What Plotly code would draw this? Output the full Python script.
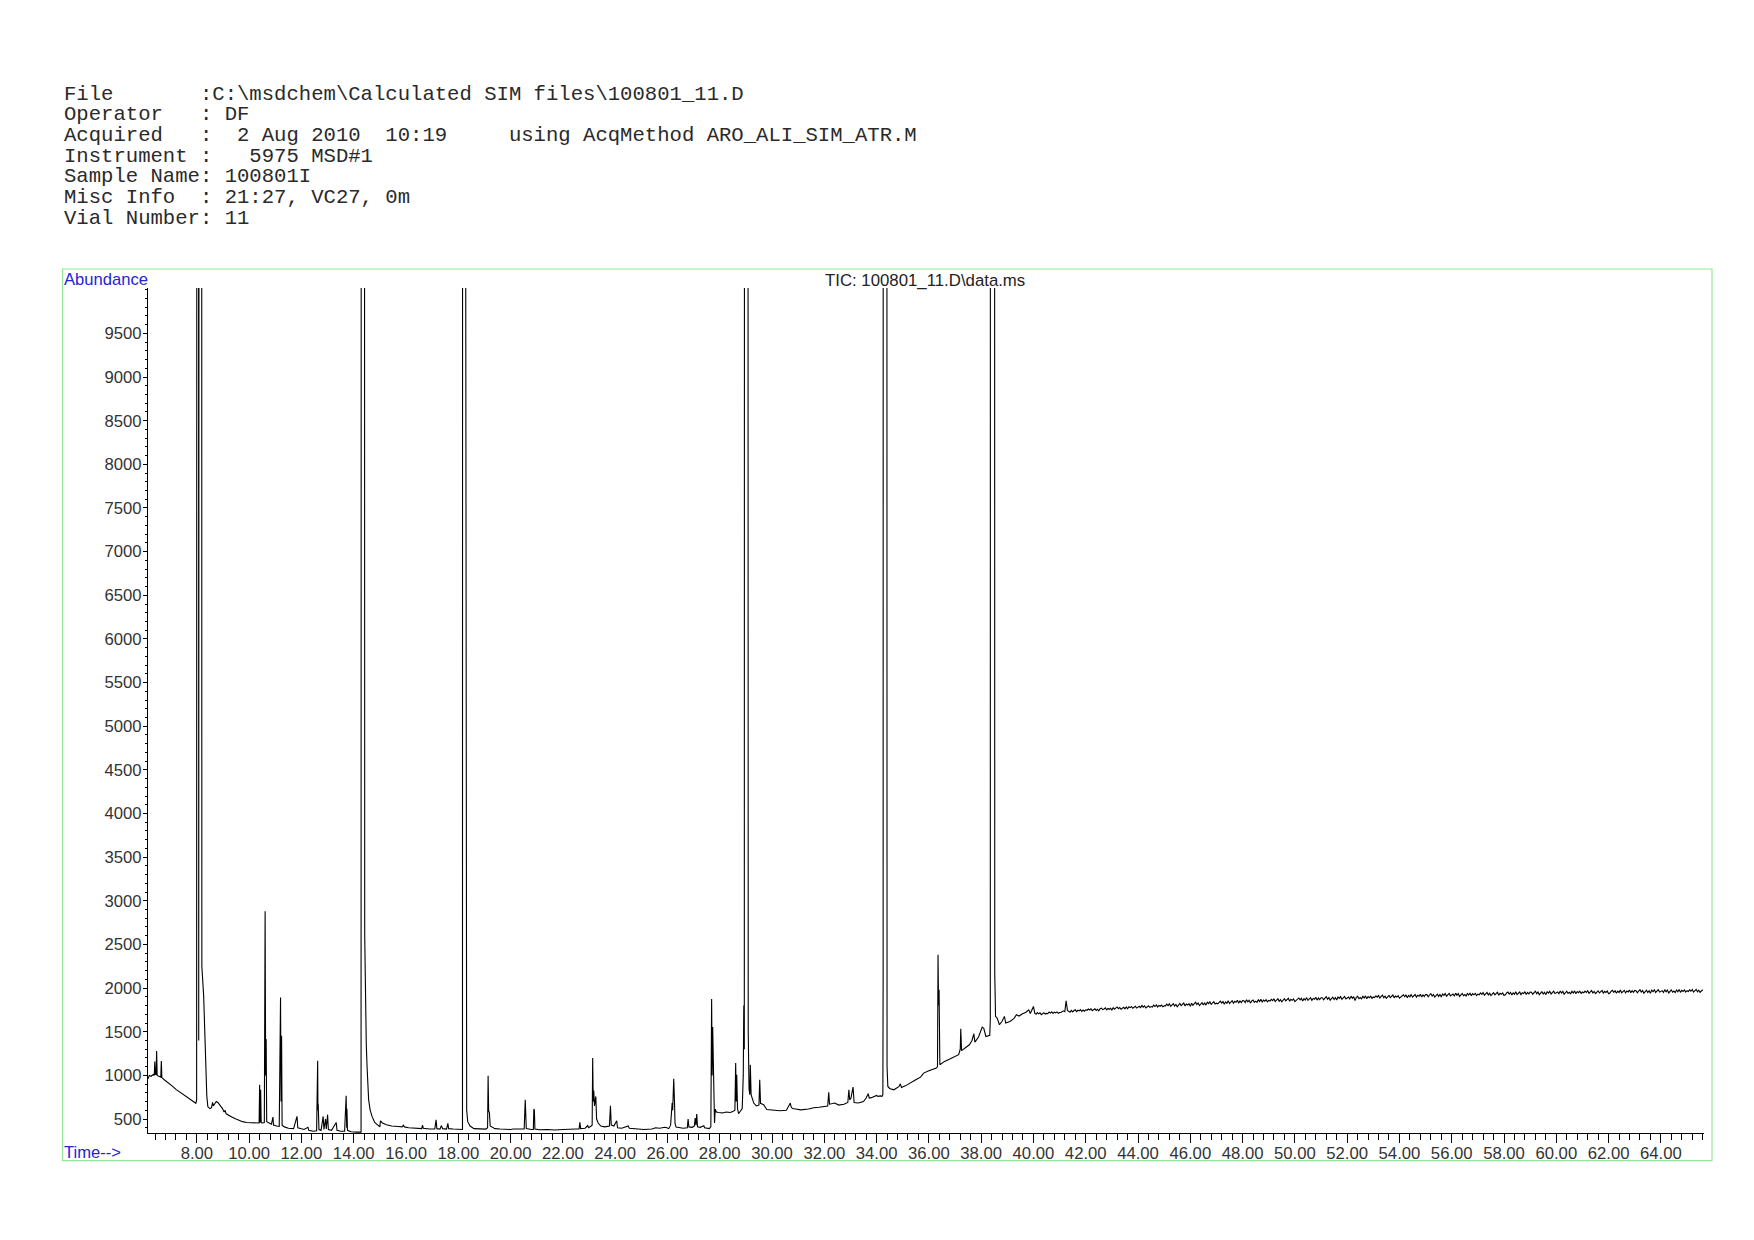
import plotly.graph_objects as go

# ---------------- data ----------------
rt_seg1 = [6.13, 6.18, 6.25, 6.33, 6.37, 6.39, 6.41, 6.44, 6.46, 6.48, 6.55, 6.62, 6.64, 6.66, 6.75, 6.90,
           7.05, 7.20, 7.35, 7.50, 7.65, 7.80, 7.92, 7.96, 7.99, 8.01, 8.05, 8.07, 8.09, 8.11, 8.17, 8.19,
           8.26, 8.32, 8.38, 8.42, 8.50, 8.56, 8.60, 8.63, 8.68, 8.74, 8.80, 8.86, 8.92, 8.98, 9.04, 9.08,
           9.12, 9.20, 9.30, 9.45, 9.60, 9.75, 9.90, 10.10, 10.30, 10.38, 10.40, 10.42, 10.44, 10.46, 10.50,
           10.58, 10.61, 10.63, 10.65, 10.67, 10.75, 10.85, 10.91, 10.93, 11.05, 11.15, 11.20, 11.22, 11.24,
           11.26, 11.35, 11.50, 11.70, 11.83, 11.86, 12.00, 12.10, 12.25, 12.28, 12.45, 12.58, 12.62, 12.63,
           12.64, 12.67, 12.75, 12.83, 12.86, 12.92, 12.95, 13.00, 13.03, 13.15, 13.33, 13.36, 13.50, 13.65,
           13.71, 13.73, 13.74, 13.76, 13.90, 14.10, 14.28, 14.30, 14.39, 14.42, 14.44, 14.48, 14.51, 14.57,
           14.63, 14.70, 14.80, 14.95, 15.00, 15.02, 15.10, 15.25, 15.45, 15.70, 15.85, 15.90, 15.94, 16.10,
           16.40, 16.60, 16.63, 16.66, 16.90, 17.10, 17.15, 17.18, 17.30, 17.35, 17.40, 17.55, 17.60, 17.63,
           17.80, 17.95, 18.10, 18.16, 18.17, 18.27, 18.28, 18.285, 18.30, 18.32, 18.36, 18.45, 18.60, 18.80,
           19.05, 19.12, 19.14, 19.16, 19.17, 19.19, 19.22, 19.40, 19.60, 19.80, 20.00]
ab_seg1 = [960, 1000, 990, 1010, 1000, 1160, 1010, 1010, 1280, 1000, 990, 980, 1165, 975, 950, 920,
           880, 840, 810, 780, 750, 715, 690, 680, 720, 40000, 40000, 1400, 1480, 40000, 40000, 2250,
           1905, 1180, 760, 640, 620, 630, 690, 650, 670, 700, 690, 670, 640, 620, 580, 600,
           560, 550, 530, 505, 485, 470, 460, 455, 450, 455, 893, 460, 836, 460, 455,
           460, 2880, 1000, 1416, 470, 460, 440, 523, 430, 420, 415, 1893, 700, 1454,
           430, 410, 395, 390, 530, 400, 385, 380, 405, 370, 360, 365, 1168, 600,
           675, 380, 370, 530, 380, 500, 385, 550, 380, 370, 460, 370, 360, 360,
           767, 400, 618, 370, 355, 350, 350, 40000, 40000, 2600, 1870, 1350, 1100, 720,
           600, 530, 460, 416, 410, 480, 455, 435, 420, 415, 410, 430, 410, 400,
           395, 390, 430, 395, 385, 385, 490, 390, 385, 425, 390, 385, 450, 390,
           385, 380, 380, 380, 40000, 40000, 5900, 5850, 1500, 600, 470, 420, 390, 385,
           385, 400, 996, 600, 590, 570, 420, 390, 385, 380, 380]

rt_seg2 = [20.10, 20.40, 20.52, 20.56, 20.58, 20.60, 20.80, 20.87, 20.89, 20.91, 20.93, 21.10, 21.40,
           21.70, 22.00, 22.30, 22.50, 22.62, 22.65, 22.68, 22.85, 22.95, 22.98, 23.08, 23.12, 23.14,
           23.16, 23.18, 23.21, 23.24, 23.26, 23.29, 23.35, 23.45, 23.60, 23.78, 23.82, 23.85, 23.95,
           24.06, 24.09, 24.25, 24.50, 24.54, 24.80, 25.10, 25.40, 25.55, 25.70, 25.90, 25.98, 26.05,
           26.12, 26.18, 26.20, 26.24, 26.27, 26.29, 26.33, 26.45, 26.60, 26.76, 26.79, 26.82, 26.95,
           27.03, 27.06, 27.09, 27.12, 27.15, 27.25, 27.39, 27.42, 27.60, 27.66, 27.69, 27.71, 27.73,
           27.76, 27.80, 27.83, 27.87, 27.95, 28.10, 28.25, 28.40, 28.50, 28.58, 28.61, 28.63, 28.65,
           28.68, 28.72, 28.80, 28.86, 28.90, 28.92, 28.94, 28.96, 29.06, 29.09, 29.12, 29.15, 29.17,
           29.20, 29.30, 29.40, 29.50, 29.53, 29.56, 29.68, 29.80, 30.00, 30.20, 30.30, 30.55, 30.70,
           30.73, 30.78, 30.90, 31.10, 31.40, 31.60, 31.80, 32.00, 32.13, 32.17, 32.20, 32.40, 32.55,
           32.75, 32.90, 32.94, 32.97, 33.02, 33.10, 33.14, 33.30, 33.50, 33.60, 33.68, 33.72, 33.80,
           33.90, 34.00, 34.05, 34.15, 34.21, 34.24, 34.25, 34.26, 34.38, 34.40, 34.43, 34.50, 34.66,
           34.75, 34.85, 34.91, 34.95, 35.10, 35.30, 35.50, 35.68, 35.80, 36.00, 36.15, 36.29, 36.33,
           36.35, 36.37, 36.39, 36.42, 36.60, 36.80, 37.00, 37.14, 37.20, 37.22, 37.25, 37.40, 37.55,
           37.65, 37.72, 37.76, 37.90, 38.04, 38.10, 38.18, 38.26, 38.33, 38.35, 38.36, 38.50, 38.52,
           38.55, 38.61, 38.70, 38.80, 38.89, 38.94, 39.10, 39.25, 39.35, 39.45, 39.58, 39.70, 39.82,
           39.88, 40.00]
ab_seg2 = [385, 380, 385, 721, 550, 390, 380, 380, 614, 600, 385, 378, 380,
           375, 380, 378, 385, 385, 462, 390, 395, 425, 400, 420, 430, 1198,
           700, 827, 650, 700, 759, 500, 454, 420, 410, 420, 652, 430, 420,
           480, 400, 395, 420, 395, 385, 380, 385, 400, 395, 405, 400, 390,
           430, 683, 600, 962, 690, 450, 408, 400, 395, 400, 500, 410, 405,
           420, 511, 430, 557, 410, 405, 424, 400, 390, 410, 1874, 1000, 1553,
           800, 454, 614, 580, 575, 570, 580, 575, 585, 600, 1141, 700, 1007,
           620, 561, 600, 620, 1000, 1800, 1300, 40000, 40000, 1500, 850, 779, 1122,
           780, 683, 650, 660, 950, 680, 664, 610, 606, 600, 595, 600, 683,
           640, 620, 614, 605, 614, 630, 635, 645, 650, 805, 670, 683, 660,
           670, 690, 835, 720, 740, 866, 690, 683, 700, 740, 790, 740, 745,
           759, 770, 760, 765, 759, 780, 2100, 40000, 40000, 1103, 873, 850, 835,
           850, 870, 903, 860, 880, 911, 950, 980, 1026, 1053, 1070, 1083, 1100,
           2381, 1800, 1980, 1122, 1160, 1187, 1220, 1237, 1300, 1534, 1283, 1320, 1351,
           1400, 1477, 1381, 1440, 1553, 1540, 1446, 1450, 1460, 1640, 40000, 40000, 2171,
           1676, 1656, 1580, 1620, 1676, 1599, 1618, 1650, 1694, 1680, 1706, 1720, 1751,
           1710, 1790]

rt_seg3 = [
    40.05, 40.1, 40.15, 40.2, 40.25, 40.3, 40.35, 40.4, 40.45, 40.5, 40.55, 40.6, 40.65, 40.7, 40.75, 40.8, 40.85, 40.9, 40.95, 41.0,
    41.05, 41.1, 41.15, 41.2, 41.25, 41.3, 41.35, 41.4, 41.45, 41.5, 41.55, 41.6, 41.65, 41.7, 41.75, 41.8, 41.85, 41.9, 41.95, 42.0,
    42.05, 42.1, 42.15, 42.2, 42.25, 42.3, 42.35, 42.4, 42.45, 42.5, 42.55, 42.6, 42.65, 42.7, 42.75, 42.8, 42.85, 42.9, 42.95, 43.0,
    43.05, 43.1, 43.15, 43.2, 43.25, 43.3, 43.35, 43.4, 43.45, 43.5, 43.55, 43.6, 43.65, 43.7, 43.75, 43.8, 43.85, 43.9, 43.95, 44.0,
    44.05, 44.1, 44.15, 44.2, 44.25, 44.3, 44.35, 44.4, 44.45, 44.5, 44.55, 44.6, 44.65, 44.7, 44.75, 44.8, 44.85, 44.9, 44.95, 45.0,
    45.05, 45.1, 45.15, 45.2, 45.25, 45.3, 45.35, 45.4, 45.45, 45.5, 45.55, 45.6, 45.65, 45.7, 45.75, 45.8, 45.85, 45.9, 45.95, 46.0,
    46.05, 46.1, 46.15, 46.2, 46.25, 46.3, 46.35, 46.4, 46.45, 46.5, 46.55, 46.6, 46.65, 46.7, 46.75, 46.8, 46.85, 46.9, 46.95, 47.0,
    47.05, 47.1, 47.15, 47.2, 47.25, 47.3, 47.35, 47.4, 47.45, 47.5, 47.55, 47.6, 47.65, 47.7, 47.75, 47.8, 47.85, 47.9, 47.95, 48.0,
    48.05, 48.1, 48.15, 48.2, 48.25, 48.3, 48.35, 48.4, 48.45, 48.5, 48.55, 48.6, 48.65, 48.7, 48.75, 48.8, 48.85, 48.9, 48.95, 49.0,
    49.05, 49.1, 49.15, 49.2, 49.25, 49.3, 49.35, 49.4, 49.45, 49.5, 49.55, 49.6, 49.65, 49.7, 49.75, 49.8, 49.85, 49.9, 49.95, 50.0,
    50.05, 50.1, 50.15, 50.2, 50.25, 50.3, 50.35, 50.4, 50.45, 50.5, 50.55, 50.6, 50.65, 50.7, 50.75, 50.8, 50.85, 50.9, 50.95, 51.0,
    51.05, 51.1, 51.15, 51.2, 51.25, 51.3, 51.35, 51.4, 51.45, 51.5, 51.55, 51.6, 51.65, 51.7, 51.75, 51.8, 51.85, 51.9, 51.95, 52.0,
    52.05, 52.1, 52.15, 52.2, 52.25, 52.3, 52.35, 52.4, 52.45, 52.5, 52.55, 52.6, 52.65, 52.7, 52.75, 52.8, 52.85, 52.9, 52.95, 53.0,
    53.05, 53.1, 53.15, 53.2, 53.25, 53.3, 53.35, 53.4, 53.45, 53.5, 53.55, 53.6, 53.65, 53.7, 53.75, 53.8, 53.85, 53.9, 53.95, 54.0,
    54.05, 54.1, 54.15, 54.2, 54.25, 54.3, 54.35, 54.4, 54.45, 54.5, 54.55, 54.6, 54.65, 54.7, 54.75, 54.8, 54.85, 54.9, 54.95, 55.0,
    55.05, 55.1, 55.15, 55.2, 55.25, 55.3, 55.35, 55.4, 55.45, 55.5, 55.55, 55.6, 55.65, 55.7, 55.75, 55.8, 55.85, 55.9, 55.95, 56.0,
    56.05, 56.1, 56.15, 56.2, 56.25, 56.3, 56.35, 56.4, 56.45, 56.5, 56.55, 56.6, 56.65, 56.7, 56.75, 56.8, 56.85, 56.9, 56.95, 57.0,
    57.05, 57.1, 57.15, 57.2, 57.25, 57.3, 57.35, 57.4, 57.45, 57.5, 57.55, 57.6, 57.65, 57.7, 57.75, 57.8, 57.85, 57.9, 57.95, 58.0,
    58.05, 58.1, 58.15, 58.2, 58.25, 58.3, 58.35, 58.4, 58.45, 58.5, 58.55, 58.6, 58.65, 58.7, 58.75, 58.8, 58.85, 58.9, 58.95, 59.0,
    59.05, 59.1, 59.15, 59.2, 59.25, 59.3, 59.35, 59.4, 59.45, 59.5, 59.55, 59.6, 59.65, 59.7, 59.75, 59.8, 59.85, 59.9, 59.95, 60.0,
    60.05, 60.1, 60.15, 60.2, 60.25, 60.3, 60.35, 60.4, 60.45, 60.5, 60.55, 60.6, 60.65, 60.7, 60.75, 60.8, 60.85, 60.9, 60.95, 61.0,
    61.05, 61.1, 61.15, 61.2, 61.25, 61.3, 61.35, 61.4, 61.45, 61.5, 61.55, 61.6, 61.65, 61.7, 61.75, 61.8, 61.85, 61.9, 61.95, 62.0,
    62.05, 62.1, 62.15, 62.2, 62.25, 62.3, 62.35, 62.4, 62.45, 62.5, 62.55, 62.6, 62.65, 62.7, 62.75, 62.8, 62.85, 62.9, 62.95, 63.0,
    63.05, 63.1, 63.15, 63.2, 63.25, 63.3, 63.35, 63.4, 63.45, 63.5, 63.55, 63.6, 63.65, 63.7, 63.75, 63.8, 63.85, 63.9, 63.95, 64.0,
    64.05, 64.1, 64.15, 64.2, 64.25, 64.3, 64.35, 64.4, 64.45, 64.5, 64.55, 64.6, 64.65, 64.7, 64.75, 64.8, 64.85, 64.9, 64.95, 65.0,
    65.05, 65.1, 65.15, 65.2, 65.25, 65.3, 65.35, 65.4, 65.45, 65.5, 65.55, 65.6]
ab_seg3 = [
    1713, 1700, 1720, 1705, 1717, 1696, 1712, 1718, 1702, 1710, 1708, 1726, 1714, 1729, 1709, 1724, 1716, 1727, 1711, 1721,
    1720, 1734, 1740, 1730, 1855, 1745, 1735, 1724, 1744, 1728, 1743, 1751, 1730, 1746, 1739, 1754, 1732, 1748, 1736, 1751,
    1746, 1760, 1749, 1763, 1742, 1754, 1764, 1744, 1757, 1739, 1763, 1770, 1753, 1761, 1773, 1750, 1766, 1757, 1768, 1748,
    1776, 1759, 1773, 1784, 1765, 1777, 1757, 1772, 1780, 1762, 1783, 1763, 1787, 1776, 1789, 1769, 1781, 1791, 1771, 1778,
    1792, 1776, 1800, 1782, 1797, 1772, 1791, 1798, 1779, 1788, 1782, 1804, 1789, 1807, 1783, 1801, 1792, 1805, 1786, 1798,
    1796, 1816, 1800, 1820, 1790, 1808, 1822, 1794, 1812, 1786, 1814, 1825, 1800, 1812, 1829, 1796, 1818, 1806, 1822, 1792,
    1827, 1803, 1823, 1839, 1811, 1829, 1799, 1821, 1833, 1807, 1833, 1805, 1839, 1823, 1843, 1813, 1831, 1845, 1817, 1827,
    1820, 1840, 1850, 1828, 1846, 1816, 1842, 1826, 1854, 1822, 1844, 1856, 1826, 1848, 1838, 1860, 1828, 1852, 1834, 1856,
    1855, 1834, 1866, 1842, 1861, 1828, 1853, 1863, 1837, 1850, 1837, 1866, 1847, 1871, 1839, 1863, 1850, 1867, 1842, 1858,
    1852, 1872, 1856, 1876, 1846, 1864, 1878, 1850, 1868, 1842, 1868, 1879, 1854, 1866, 1883, 1850, 1872, 1860, 1876, 1846,
    1857, 1877, 1887, 1865, 1883, 1853, 1879, 1863, 1891, 1859, 1878, 1890, 1860, 1882, 1872, 1894, 1862, 1886, 1868, 1890,
    1889, 1865, 1885, 1901, 1873, 1891, 1861, 1883, 1895, 1869, 1892, 1864, 1898, 1882, 1902, 1872, 1890, 1904, 1876, 1886,
    1897, 1876, 1908, 1884, 1903, 1857, 1895, 1905, 1879, 1892, 1877, 1906, 1887, 1911, 1879, 1903, 1890, 1907, 1882, 1898,
    1892, 1912, 1896, 1916, 1886, 1904, 1918, 1890, 1908, 1882, 1906, 1917, 1892, 1904, 1921, 1888, 1910, 1898, 1914, 1884,
    1894, 1914, 1924, 1902, 1920, 1890, 1916, 1900, 1928, 1896, 1914, 1926, 1896, 1918, 1908, 1930, 1898, 1922, 1904, 1926,
    1925, 1901, 1921, 1937, 1909, 1927, 1897, 1919, 1931, 1905, 1927, 1899, 1933, 1917, 1937, 1907, 1925, 1939, 1911, 1921,
    1931, 1910, 1942, 1918, 1937, 1904, 1929, 1939, 1913, 1926, 1910, 1939, 1920, 1944, 1912, 1936, 1923, 1940, 1915, 1931,
    1924, 1944, 1928, 1948, 1918, 1936, 1950, 1922, 1940, 1914, 1937, 1948, 1923, 1935, 1952, 1919, 1941, 1929, 1945, 1915,
    1924, 1944, 1954, 1932, 1950, 1920, 1946, 1930, 1958, 1926, 1943, 1955, 1925, 1947, 1937, 1959, 1927, 1951, 1933, 1955,
    1952, 1928, 1948, 1964, 1936, 1954, 1924, 1946, 1958, 1932, 1953, 1925, 1959, 1943, 1963, 1933, 1951, 1965, 1937, 1947,
    1956, 1935, 1967, 1943, 1962, 1929, 1954, 1964, 1938, 1951, 1934, 1963, 1944, 1968, 1936, 1960, 1947, 1964, 1939, 1955,
    1946, 1966, 1950, 1970, 1940, 1958, 1972, 1944, 1962, 1936, 1958, 1969, 1944, 1956, 1973, 1940, 1962, 1950, 1966, 1936,
    1944, 1964, 1974, 1952, 1970, 1940, 1966, 1950, 1978, 1946, 1962, 1974, 1944, 1966, 1956, 1978, 1946, 1970, 1952, 1974,
    1970, 1946, 1966, 1982, 1954, 1972, 1942, 1964, 1976, 1950, 1970, 1942, 1976, 1960, 1980, 1950, 1968, 1982, 1954, 1964,
    1971, 1950, 1982, 1958, 1977, 1944, 1969, 1979, 1953, 1966, 1949, 1978, 1959, 1983, 1951, 1975, 1962, 1979, 1954, 1970,
    1960, 1980, 1964, 1984, 1954, 1972, 1986, 1958, 1976, 1950, 1970, 1981]

x_tick_vals = [8, 10, 12, 14, 16, 18, 20, 22, 24, 26, 28, 30, 32, 34, 36, 38, 40, 42, 44, 46, 48, 50,
               52, 54, 56, 58, 60, 62, 64]
x_tick_text = ["8.00", "10.00", "12.00", "14.00", "16.00", "18.00", "20.00", "22.00", "24.00", "26.00",
               "28.00", "30.00", "32.00", "34.00", "36.00", "38.00", "40.00", "42.00", "44.00", "46.00",
               "48.00", "50.00", "52.00", "54.00", "56.00", "58.00", "60.00", "62.00", "64.00"]
y_tick_vals = [500, 1000, 1500, 2000, 2500, 3000, 3500, 4000, 4500, 5000, 5500, 6000, 6500, 7000,
               7500, 8000, 8500, 9000, 9500]
y_tick_text = [str(v) for v in y_tick_vals]

header_lines = [
    r"File       :C:\msdchem\Calculated SIM files\100801_11.D",
    r"Operator   : DF",
    r"Acquired   :  2 Aug 2010  10:19     using AcqMethod ARO_ALI_SIM_ATR.M",
    r"Instrument :   5975 MSD#1",
    r"Sample Name: 100801I",
    r"Misc Info  : 21:27, VC27, 0m",
    r"Vial Number: 11",
]
chart_title = r"TIC: 100801_11.D\data.ms"

assert len(rt_seg1) == len(ab_seg1)
assert len(rt_seg2) == len(ab_seg2)
assert len(rt_seg3) == len(ab_seg3)

rt = rt_seg1 + rt_seg2 + rt_seg3
ab = ab_seg1 + ab_seg2 + ab_seg3

# ---------------- layout geometry ----------------
# the page body has an 8 px margin, so figure coordinates = screen coordinates - 8
OFF = 8
W, H = 1754 - 2 * OFF, 1240 - 2 * OFF
# plot area in screen pixels
SX0, SX1, SY0, SY1 = 147.5, 1704.0, 288.0, 1133.3
L, R = SX0 - OFF, W - (SX1 - OFF)
T, B = SY0 - OFF, H - (SY1 - OFF)
PW, PH = W - L - R, H - T - B
X_RANGE = [6.13, 65.65]
Y_RANGE = [340, 10020]


def px(xs):
    return (xs - OFF - L) / PW


def py(ys):
    return (H - B - (ys - OFF)) / PH


x_minor = [round(6.4 + 0.4 * i, 1) for i in range(149) if 6.4 + 0.4 * i <= 65.65]
y_minor = [400 + 100 * i for i in range(97)]

fig = go.Figure()
fig.add_trace(go.Scatter(x=rt, y=ab, mode="lines",
                         line=dict(color="black", width=1.1),
                         hoverinfo="skip", showlegend=False))

tick_font = dict(family="Liberation Sans, Arial, sans-serif", size=16.7, color="#333333")
fig.update_layout(
    width=W, height=H,
    margin=dict(l=L, r=R, t=T, b=B, pad=0),
    paper_bgcolor="white", plot_bgcolor="white",
    showlegend=False,
    xaxis=dict(range=X_RANGE, showgrid=False, zeroline=False, showline=True,
               linecolor="black", linewidth=1,
               tickmode="array", tickvals=x_tick_vals, ticktext=x_tick_text,
               ticks="outside", ticklen=9, tickwidth=1, tickcolor="black",
               tickfont=tick_font, ticklabelstandoff=-4,
               minor=dict(tickmode="array", tickvals=x_minor, ticks="outside",
                          ticklen=6, tickwidth=1, tickcolor="black", showgrid=False)),
    yaxis=dict(range=Y_RANGE, showgrid=False, zeroline=False, showline=True,
               linecolor="black", linewidth=1,
               tickmode="array", tickvals=y_tick_vals, ticktext=y_tick_text,
               ticks="outside", ticklen=4, tickwidth=1, tickcolor="black",
               tickfont=tick_font, ticklabelstandoff=-2,
               minor=dict(tickmode="array", tickvals=y_minor, ticks="outside",
                          ticklen=2, tickwidth=1, tickcolor="black", showgrid=False)),
)

# green frame around the chart
fig.add_shape(type="rect", xref="paper", yref="paper",
              x0=px(62), x1=px(1712), y0=py(1161), y1=py(269),
              line=dict(color="#96e696", width=1.2), fillcolor="rgba(0,0,0,0)", layer="below")

annos = []
mono = dict(family="Liberation Mono, Courier New, monospace", size=20.6, color="#2a2a2a")
line_y = [94, 114.7, 135.3, 156, 176.7, 197.3, 218]
for txt, yc in zip(header_lines, line_y):
    annos.append(dict(x=px(61), y=py(yc), xref="paper", yref="paper",
                      xanchor="left", yanchor="middle", showarrow=False,
                      text=txt.replace(" ", "\u00a0"), font=mono))

blue = "#2424d6"
sans = "Liberation Sans, Arial, sans-serif"
annos.append(dict(x=px(61), y=py(279), xref="paper", yref="paper", xanchor="left", yanchor="middle",
                  showarrow=False, text="Abundance", font=dict(family=sans, size=16.6, color=blue)))
annos.append(dict(x=px(61), y=py(1153), xref="paper", yref="paper", xanchor="left", yanchor="middle",
                  showarrow=False, text="Time-->", font=dict(family=sans, size=16.6, color=blue)))
annos.append(dict(x=px(924.5), y=py(280), xref="paper", yref="paper", xanchor="center", yanchor="middle",
                  showarrow=False, text=chart_title, font=dict(family=sans, size=16.8, color="#222222")))
fig.update_layout(annotations=annos)

fig.write_html("out.html", config={"displayModeBar": False})
